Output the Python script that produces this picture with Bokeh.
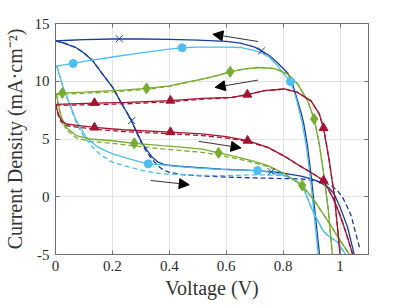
from bokeh.plotting import figure
from bokeh.models import Range1d, LinearAxis, FixedTicker, Arrow, NormalHead
from bokeh.embed import file_html
from bokeh.resources import INLINE

# ---------------- data ----------------
x_ticks = [0, 0.2, 0.4, 0.6, 0.8, 1.0]
x_tick_labels = ["0", "0.2", "0.4", "0.6", "0.8", "1"]
y_ticks = [-5, 0, 5, 10, 15]
y_tick_labels = ["-5", "0", "5", "10", "15"]

# dark blue
db_rev_v = [0, 0.05, 0.1, 0.2, 0.3, 0.4, 0.5, 0.6, 0.65, 0.7, 0.724, 0.75, 0.78, 0.8, 0.817, 0.835, 0.851, 0.864, 0.872, 0.885, 0.898, 0.91, 0.92, 0.93]
db_rev_j = [13.5, 13.55, 13.6, 13.66, 13.66, 13.62, 13.56, 13.45, 13.3, 12.95, 12.63, 12.25, 11.6, 11.1, 10.7, 9.6, 8.3, 7.2, 6.4, 4.5, 1.9, -0.9, -3.2, -5.5]
db_fwd_v = [0, 0.03, 0.073, 0.1, 0.131, 0.166, 0.201, 0.23, 0.247, 0.265, 0.282, 0.306, 0.325, 0.34, 0.36, 0.387, 0.433, 0.515, 0.584, 0.65, 0.70, 0.758, 0.8, 0.863, 0.9, 0.933, 0.96, 0.979, 1.0, 1.026, 1.049, 1.056]
db_fwd_j = [13.5, 13.3, 12.9, 12.45, 11.77, 10.6, 9.47, 8.17, 7.45, 6.7, 5.75, 4.58, 3.9, 3.42, 3.0, 2.75, 2.65, 2.5, 2.38, 2.32, 2.27, 2.17, 2.05, 1.78, 1.55, 1.2, 0.8, 0.26, -0.9, -2.6, -4.9, -5.6]
db_fwd_dash_v = [0, 0.03, 0.073, 0.1, 0.131, 0.166, 0.201, 0.23, 0.247, 0.265, 0.282, 0.3, 0.317, 0.34, 0.364, 0.38, 0.399, 0.445, 0.515, 0.584, 0.7, 0.8, 0.863, 0.944, 0.97, 0.991, 1.01, 1.026, 1.04, 1.049, 1.06, 1.07]
db_fwd_dash_j = [13.5, 13.3, 12.9, 12.45, 11.77, 10.6, 9.47, 8.17, 7.45, 6.7, 5.75, 4.75, 4.0, 3.2, 2.6, 2.3, 2.13, 1.92, 1.8, 1.72, 1.63, 1.57, 1.55, 1.26, 0.95, 0.54, -0.1, -0.9, -1.7, -2.6, -3.6, -4.55]
db_mk_v = [0.224, 0.724, 0.268, 0.758]
db_mk_j = [13.68, 12.63, 6.6, 2.17]

# light blue
lb_rev_v = [0, 0.03, 0.062, 0.1, 0.2, 0.3, 0.4, 0.445, 0.5, 0.6, 0.654, 0.7, 0.724, 0.75, 0.775, 0.8, 0.826, 0.845, 0.866, 0.88, 0.895, 0.905, 0.915, 0.925]
lb_rev_j = [11.3, 11.42, 11.54, 11.72, 12.1, 12.45, 12.78, 12.9, 12.95, 12.95, 12.92, 12.65, 12.45, 12.1, 11.5, 10.7, 9.96, 8.6, 6.5, 4.6, 1.8, -0.6, -3.0, -5.5]
lb_fwd_v = [0, 0.006, 0.027, 0.05, 0.073, 0.108, 0.143, 0.178, 0.201, 0.259, 0.326, 0.375, 0.433, 0.515, 0.6, 0.71, 0.76, 0.805, 0.846, 0.875, 0.898, 0.915, 0.927, 0.939, 0.956, 0.991, 1.02, 1.03]
lb_fwd_j = [11.3, 11.2, 9.47, 8.03, 6.59, 5.15, 4.4, 3.95, 3.71, 3.28, 2.85, 2.76, 2.6, 2.45, 2.35, 2.27, 2.1, 1.84, 1.41, 0.54, -0.9, -1.76, -2.3, -2.9, -3.34, -3.92, -5.0, -5.3]
lb_fwd_dash_v = [0, 0.006, 0.027, 0.05, 0.073, 0.1, 0.13, 0.16, 0.2, 0.259, 0.317, 0.375, 0.433, 0.515, 0.6, 0.689, 0.76, 0.805, 0.846, 0.875, 0.898, 0.915, 0.927, 0.939, 0.956, 0.991, 1.02, 1.03]
lb_fwd_dash_j = [11.3, 11.2, 9.4, 7.9, 6.4, 5.2, 4.3, 3.6, 3.0, 2.56, 2.21, 1.99, 1.93, 1.85, 1.82, 1.9, 1.88, 1.8, 1.41, 0.54, -0.9, -1.76, -2.3, -2.9, -3.34, -3.92, -5.0, -5.3]
lb_mk_v = [0.062, 0.445, 0.826, 0.326, 0.71]
lb_mk_j = [11.54, 12.9, 9.96, 2.85, 2.27]

# green
gr_rev_v = [0, 0.024, 0.1, 0.2, 0.236, 0.32, 0.4, 0.457, 0.52, 0.57, 0.614, 0.66, 0.712, 0.77, 0.817, 0.851, 0.886, 0.909, 0.927, 0.944, 0.958, 0.973, 0.977]
gr_rev_j = [8.9, 8.98, 9.05, 9.18, 9.24, 9.38, 9.6, 9.9, 10.2, 10.5, 10.82, 11.05, 11.19, 11.1, 10.62, 9.76, 8.32, 6.74, 4.58, 1.7, -1.0, -5.0, -5.6]
gr_rev_dash_v = [0, 0.024, 0.1, 0.2, 0.236, 0.32, 0.4, 0.457, 0.52, 0.57, 0.614, 0.66, 0.712, 0.77, 0.817, 0.851, 0.886, 0.909, 0.927, 0.944, 0.958, 0.973, 0.977]
gr_rev_dash_j = [8.82, 8.88, 8.95, 9.08, 9.14, 9.3, 9.55, 9.87, 10.2, 10.5, 10.82, 11.05, 11.19, 11.1, 10.62, 9.76, 8.32, 6.74, 4.58, 1.7, -1.0, -5.0, -5.6]
gr_fwd_v = [0, 0.003, 0.01, 0.021, 0.038, 0.073, 0.12, 0.2, 0.277, 0.375, 0.45, 0.515, 0.573, 0.63, 0.689, 0.747, 0.805, 0.84, 0.867, 0.909, 0.956, 1.0, 1.031, 1.04]
gr_fwd_j = [8.9, 8.9, 8.0, 6.88, 6.0, 5.3, 5.0, 4.85, 4.63, 4.43, 4.28, 4.12, 3.8, 3.5, 3.13, 2.7, 1.99, 1.41, 0.98, -0.32, -2.05, -3.77, -4.92, -5.3]
gr_fwd_dash_v = [0, 0.003, 0.01, 0.021, 0.038, 0.073, 0.12, 0.2, 0.277, 0.375, 0.45, 0.515, 0.573, 0.63, 0.689, 0.747, 0.805, 0.84, 0.867, 0.909, 0.956, 1.0, 1.031, 1.04]
gr_fwd_dash_j = [8.9, 8.9, 7.9, 6.7, 5.8, 5.1, 4.8, 4.63, 4.4, 4.14, 3.98, 3.85, 3.6, 3.33, 3.0, 2.6, 1.99, 1.41, 0.98, -0.32, -2.05, -3.77, -4.92, -5.3]
gr_mk_v = [0.024, 0.32, 0.614, 0.909, 0.277, 0.573, 0.867]
gr_mk_j = [8.98, 9.38, 10.82, 6.74, 4.63, 3.8, 0.98]

# red
rd_rev_v = [0, 0.137, 0.25, 0.404, 0.515, 0.619, 0.674, 0.735, 0.805, 0.851, 0.898, 0.927, 0.942, 0.962, 0.979, 0.991, 1.0, 1.003]
rd_rev_j = [8.0, 8.1, 8.17, 8.33, 8.52, 8.6, 8.85, 9.18, 9.33, 9.03, 8.3, 7.17, 5.95, 3.13, 0.26, -2.6, -4.9, -5.5]
rd_rev_dash_v = [0, 0.137, 0.25, 0.404, 0.515, 0.619, 0.674, 0.735, 0.805, 0.851, 0.898, 0.927, 0.942, 0.962, 0.979, 0.991, 1.0, 1.003]
rd_rev_dash_j = [7.9, 7.98, 8.05, 8.22, 8.45, 8.58, 8.85, 9.18, 9.33, 9.03, 8.3, 7.17, 5.95, 3.13, 0.26, -2.6, -4.9, -5.5]
rd_fwd_v = [0, 0.01, 0.021, 0.038, 0.085, 0.137, 0.236, 0.404, 0.515, 0.6, 0.675, 0.747, 0.805, 0.85, 0.898, 0.942, 0.96, 0.979, 1.0, 1.014, 1.03, 1.043, 1.05]
rd_fwd_j = [8.0, 7.17, 6.59, 6.3, 6.16, 6.0, 5.8, 5.6, 5.44, 5.2, 4.86, 4.28, 3.5, 2.8, 2.1, 1.41, 0.6, -0.3, -1.6, -2.6, -3.8, -4.9, -5.5]
rd_fwd_dash_v = [0, 0.01, 0.021, 0.038, 0.085, 0.137, 0.236, 0.404, 0.515, 0.6, 0.675, 0.747, 0.805, 0.85, 0.898, 0.942, 0.96, 0.979, 1.0, 1.014, 1.03, 1.043, 1.05]
rd_fwd_dash_j = [8.0, 7.0, 6.45, 6.15, 6.0, 5.85, 5.65, 5.45, 5.3, 5.08, 4.78, 4.25, 3.5, 2.8, 2.1, 1.41, 0.6, -0.3, -1.6, -2.6, -3.8, -4.9, -5.5]
rd_mk_v = [0.137, 0.404, 0.674, 0.942, 0.137, 0.404, 0.675, 0.942]
rd_mk_j = [8.12, 8.33, 8.85, 5.95, 6.0, 5.6, 4.86, 1.41]

# scan-direction arrows (tail -> head)
arrow_tail_v = [0.712, 0.712, 0.503, 0.335]
arrow_tail_j = [13.44, 10.1, 4.8, 1.41]
arrow_head_v = [0.553, 0.561, 0.652, 0.47]
arrow_head_j = [14.07, 9.47, 4.23, 1.04]

# ---------------- style ----------------
C_DB = "#173c9b"
C_LB = "#4dbeee"
C_GR = "#77ac30"
C_RD = "#a2142f"
FONT = "Liberation Serif"
AX = "#6e6e6e"
TXT = "#2a2a2a"

p = figure(width=398, height=304,
           x_range=Range1d(0, 1.1), y_range=Range1d(-5, 15),
           output_backend="svg", toolbar_location=None,
           min_border_left=52, min_border_top=23, min_border_right=30, min_border_bottom=50)
p.background_fill_color = "white"
p.border_fill_color = "white"
p.outline_line_color = AX
p.outline_line_width = 1

p.xaxis.ticker = FixedTicker(ticks=x_ticks)
p.yaxis.ticker = FixedTicker(ticks=y_ticks)
p.xaxis.major_label_overrides = dict(zip(x_ticks, x_tick_labels))
p.yaxis.major_label_overrides = dict(zip(y_ticks, y_tick_labels))
p.xaxis.axis_label = "Voltage (V)"
p.yaxis.axis_label = "Current Density (mA\u00b7cm\u207b\u00b2)"

for ax in (p.xaxis[0], p.yaxis[0]):
    ax.axis_line_color = AX
    ax.major_tick_line_color = AX
    ax.major_tick_in = 4
    ax.major_tick_out = 0
    ax.minor_tick_line_color = None
    ax.major_label_text_font = FONT
    ax.major_label_text_font_size = "15px"
    ax.major_label_text_color = TXT
    ax.axis_label_text_font = FONT
    ax.axis_label_text_font_size = "20px"
    ax.axis_label_text_font_style = "normal"
    ax.axis_label_text_color = "#333333"
p.xaxis.major_label_standoff = 6
p.xaxis.axis_label_standoff = 3
p.yaxis.major_label_standoff = 6
p.yaxis.axis_label_standoff = 6

for loc, ticks in (("above", x_ticks), ("right", y_ticks)):
    a = LinearAxis(ticker=FixedTicker(ticks=ticks), major_label_text_font_size="0px",
                   major_tick_in=4, major_tick_out=0, minor_tick_line_color=None,
                   axis_line_color=AX, major_tick_line_color=AX, major_label_standoff=0)
    p.add_layout(a, loc)

p.xgrid.ticker = FixedTicker(ticks=x_ticks)
p.ygrid.ticker = FixedTicker(ticks=y_ticks)
p.grid.grid_line_color = "#e3e3e3"
p.grid.grid_line_width = 1

LW = 1.3
DASH = "5 3"

# dashed
p.line(db_fwd_dash_v, db_fwd_dash_j, line_color=C_DB, line_width=LW, line_dash=DASH)
p.line(lb_fwd_dash_v, lb_fwd_dash_j, line_color=C_LB, line_width=LW, line_dash=DASH)
p.line(gr_rev_dash_v, gr_rev_dash_j, line_color=C_GR, line_width=LW, line_dash=DASH)
p.line(gr_fwd_dash_v, gr_fwd_dash_j, line_color=C_GR, line_width=LW, line_dash=DASH)
p.line(rd_rev_dash_v, rd_rev_dash_j, line_color=C_RD, line_width=LW, line_dash=DASH)
p.line(rd_fwd_dash_v, rd_fwd_dash_j, line_color=C_RD, line_width=LW, line_dash=DASH)

# solid
p.line(db_rev_v, db_rev_j, line_color=C_DB, line_width=LW)
p.line(db_fwd_v, db_fwd_j, line_color=C_DB, line_width=LW)
p.line(lb_rev_v, lb_rev_j, line_color=C_LB, line_width=LW)
p.line(lb_fwd_v, lb_fwd_j, line_color=C_LB, line_width=LW)
p.line(gr_rev_v, gr_rev_j, line_color=C_GR, line_width=LW)
p.line(gr_fwd_v, gr_fwd_j, line_color=C_GR, line_width=LW)
p.line(rd_rev_v, rd_rev_j, line_color=C_RD, line_width=LW)
p.line(rd_fwd_v, rd_fwd_j, line_color=C_RD, line_width=LW)

# markers
p.scatter(db_mk_v, db_mk_j, marker="x", size=10, line_color=C_DB, line_width=1)
p.scatter(lb_mk_v, lb_mk_j, marker="circle", size=8, line_color=C_LB, fill_color=C_LB)
p.scatter(gr_mk_v, gr_mk_j, marker="diamond", size=11, line_color=C_GR, fill_color=C_GR)
p.scatter(rd_mk_v, rd_mk_j, marker="triangle", size=9, line_color=C_RD, fill_color=C_RD)

# arrows
for tv, tj, hv, hj in zip(arrow_tail_v, arrow_tail_j, arrow_head_v, arrow_head_j):
    p.add_layout(Arrow(x_start=tv, y_start=tj, x_end=hv, y_end=hj,
                       line_color="#333333", line_width=1,
                       end=NormalHead(size=10, fill_color="black", line_color="black")))

open("out.html", "w").write(file_html(p, INLINE))
